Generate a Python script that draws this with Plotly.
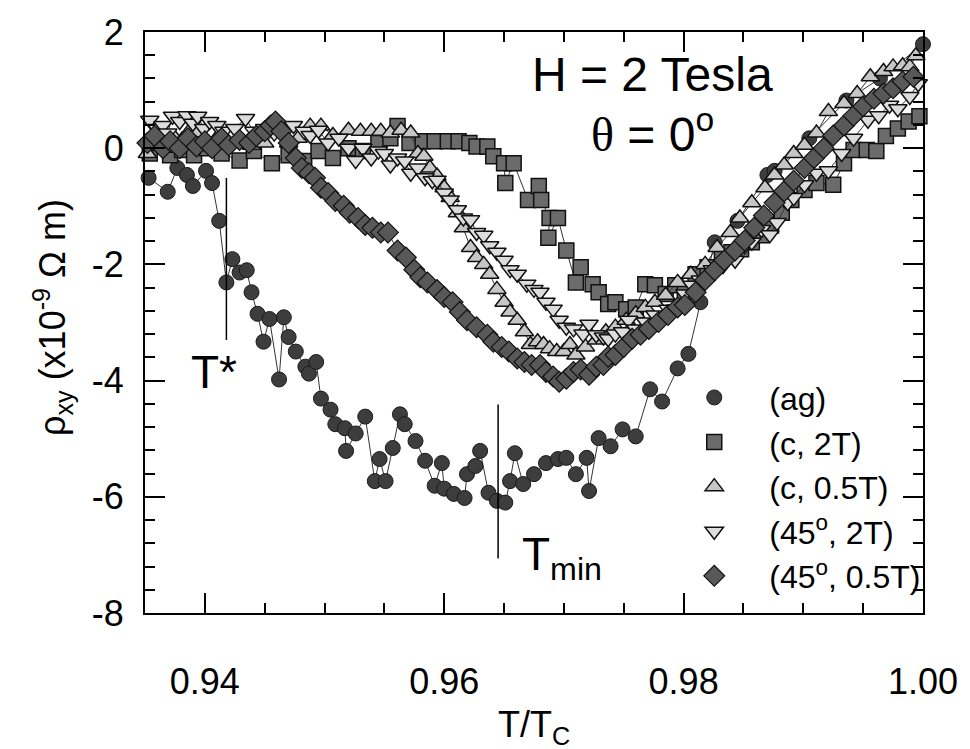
import plotly.graph_objects as go

# ---------------- data ----------------
ag_x = [0.9353, 0.9369, 0.9377, 0.9385, 0.9390, 0.9401, 0.9406, 0.9412, 0.9418, 0.9423,
        0.9429, 0.9435, 0.9439, 0.9444, 0.9449, 0.9454, 0.9462, 0.9466, 0.9470, 0.9476,
        0.9484, 0.9487, 0.9493, 0.9497, 0.9505, 0.9509, 0.9517, 0.9518, 0.9526, 0.9534,
        0.9542, 0.9546, 0.9551, 0.9557, 0.9563, 0.9567, 0.9576, 0.9584, 0.9592, 0.9598,
        0.9600, 0.9608, 0.9617, 0.9619, 0.9626, 0.9630, 0.9637, 0.9644, 0.9651, 0.9655,
        0.9659, 0.9666, 0.9675, 0.9685, 0.9695, 0.9702, 0.9710, 0.9719, 0.9721, 0.9729,
        0.9739, 0.9749, 0.9760, 0.9772, 0.9782, 0.9795, 0.9804, 0.9814, 0.9826, 0.9845,
        0.9870, 0.9876, 0.9905, 0.9936, 0.9964, 1.0000]
ag_y = [-0.51, -0.75, -0.34, -0.46, -0.65, -0.39, -0.60, -1.25, -2.31, -1.91,
        -2.14, -2.10, -2.48, -2.85, -3.33, -2.94, -3.98, -2.91, -3.25, -3.50,
        -3.76, -3.88, -3.68, -4.31, -4.50, -4.75, -4.82, -5.21, -4.91, -4.62,
        -5.73, -5.35, -5.73, -5.16, -4.58, -4.75, -5.04, -5.38, -5.81, -5.42,
        -5.86, -5.95, -6.02, -5.61, -5.47, -5.21, -5.93, -6.07, -6.10, -5.73,
        -5.25, -5.78, -5.61, -5.42, -5.35, -5.33, -5.61, -5.33, -5.90, -4.99,
        -5.13, -4.84, -4.96, -4.15, -4.36, -3.79, -3.54, -2.65, -1.62, -1.25,
        -0.46, -0.39, 0.17, 0.82, 1.20, 1.79]

c2_x = [0.9354, 0.9362, 0.9371, 0.9381, 0.9391, 0.9402, 0.9414, 0.9429, 0.9441, 0.9456,
        0.9470, 0.9483, 0.9495, 0.9507, 0.9520, 0.9532, 0.9545, 0.9555, 0.9561, 0.9571,
        0.9582, 0.9592, 0.9603, 0.9612, 0.9621, 0.9627, 0.9636, 0.9641, 0.9650, 0.9651,
        0.9658, 0.9670, 0.9679, 0.9681, 0.9688, 0.9687, 0.9695, 0.9702, 0.9710, 0.9714,
        0.9724, 0.9729, 0.9737, 0.9743, 0.9752, 0.9760, 0.9768, 0.9776, 0.9785, 0.9793,
        0.9801, 0.9810, 0.9820, 0.9832, 0.9840, 0.9848, 0.9857, 0.9865, 0.9873, 0.9882,
        0.9890, 0.9901, 0.9911, 0.9925, 0.9934, 0.9942, 0.9953, 0.9961, 0.9969, 0.9979,
        0.9988, 0.9997]
c2_y = [-0.09, 0.09, -0.12, -0.03, -0.12, 0.00, -0.09, -0.21, -0.05, -0.26,
        -0.12, -0.22, -0.05, -0.17, 0.00, -0.05, 0.09, 0.17, 0.38, 0.09,
        0.12, 0.12, 0.12, 0.12, 0.09, 0.03, 0.03, -0.14, -0.26, -0.60,
        -0.26, -0.89, -0.65, -0.89, -1.20, -1.54, -1.20, -1.76, -2.31, -2.05,
        -2.34, -2.48, -2.68, -2.65, -2.77, -2.74, -2.34, -2.36, -2.51, -2.36,
        -2.48, -2.17, -2.05, -1.85, -1.79, -1.74, -1.62, -1.50, -1.33, -1.11,
        -0.89, -0.72, -0.60, -0.63, -0.26, -0.03, -0.03, -0.05, 0.21, 0.34,
        0.46, 0.55]

c05_x = [0.9352, 0.9358, 0.9367, 0.9375, 0.9381, 0.9387, 0.9393, 0.9401, 0.9410, 0.9419,
         0.9429, 0.9439, 0.9450, 0.9461, 0.9470, 0.9478, 0.9488, 0.9497, 0.9507, 0.9520,
         0.9530, 0.9539, 0.9547, 0.9555, 0.9564, 0.9572, 0.9578, 0.9583, 0.9588, 0.9594,
         0.9600, 0.9605, 0.9611, 0.9616, 0.9622, 0.9627, 0.9633, 0.9638, 0.9644, 0.9650,
         0.9655, 0.9661, 0.9667, 0.9672, 0.9678, 0.9683, 0.9688, 0.9694, 0.9700, 0.9705,
         0.9710, 0.9718, 0.9727, 0.9735, 0.9743, 0.9752, 0.9760, 0.9768, 0.9776, 0.9785,
         0.9795, 0.9806, 0.9818, 0.9828, 0.9839, 0.9847, 0.9857, 0.9868, 0.9876, 0.9884,
         0.9892, 0.9901, 0.9911, 0.9921, 0.9934, 0.9945, 0.9956, 0.9967, 0.9975, 0.9983,
         0.9989, 0.9994]
c05_y = [-0.09, 0.09, 0.00, 0.17, 0.14, 0.29, 0.26, 0.09, 0.17, 0.09,
         0.14, 0.05, 0.09, 0.29, 0.09, 0.17, 0.38, 0.38, 0.22, 0.31,
         0.29, 0.29, 0.29, 0.26, 0.31, 0.26, -0.09, -0.14, -0.34, -0.48,
         -0.68, -0.85, -1.11, -1.37, -1.71, -1.88, -2.00, -2.17, -2.43, -2.65,
         -2.82, -2.96, -3.16, -3.38, -3.33, -3.38, -3.45, -3.50, -3.50, -3.38,
         -3.56, -3.42, -3.30, -3.16, -3.08, -2.96, -2.85, -2.74, -2.65, -2.53,
         -2.31, -2.17, -2.00, -1.71, -1.45, -1.20, -0.94, -0.68, -0.46, -0.29,
         -0.09, 0.05, 0.26, 0.63, 0.77, 0.94, 1.23, 1.32, 1.40, 1.42,
         1.40, 1.59]

d2_x = [0.9354, 0.9360, 0.9365, 0.9369, 0.9373, 0.9379, 0.9385, 0.9390, 0.9394, 0.9399,
        0.9404, 0.9410, 0.9416, 0.9425, 0.9434, 0.9441, 0.9450, 0.9458, 0.9466, 0.9474,
        0.9483, 0.9488, 0.9495, 0.9503, 0.9512, 0.9520, 0.9526, 0.9532, 0.9539, 0.9545,
        0.9550, 0.9555, 0.9561, 0.9567, 0.9572, 0.9578, 0.9584, 0.9590, 0.9594, 0.9600,
        0.9605, 0.9611, 0.9616, 0.9622, 0.9627, 0.9633, 0.9638, 0.9644, 0.9650, 0.9655,
        0.9661, 0.9669, 0.9675, 0.9680, 0.9685, 0.9691, 0.9696, 0.9702, 0.9708, 0.9716,
        0.9721, 0.9727, 0.9733, 0.9737, 0.9743, 0.9749, 0.9754, 0.9760, 0.9768, 0.9776,
        0.9787, 0.9793, 0.9801, 0.9807, 0.9814, 0.9824, 0.9833, 0.9843, 0.9851, 0.9857,
        0.9865, 0.9872, 0.9878, 0.9887, 0.9892, 0.9901, 0.9911, 0.9921, 0.9932, 0.9942,
        0.9954, 0.9963, 0.9972, 0.9979, 0.9989, 0.9996]
d2_y = [0.48, 0.34, 0.39, 0.26, 0.55, 0.46, 0.56, 0.43, 0.55, 0.34,
        0.46, 0.39, 0.29, 0.34, 0.51, 0.29, 0.34, 0.26, 0.31, 0.39,
        0.29, 0.22, 0.31, 0.09, 0.17, 0.00, -0.21, 0.00, -0.17, -0.05,
        -0.09, -0.29, -0.17, -0.22, -0.43, -0.34, -0.51, -0.56, -0.55, -0.77,
        -0.89, -1.06, -1.20, -1.23, -1.45, -1.50, -1.68, -1.79, -1.93, -2.09,
        -2.17, -2.34, -2.43, -2.48, -2.65, -2.77, -2.96, -3.08, -3.11, -3.20,
        -3.03, -3.21, -3.25, -3.28, -3.20, -3.16, -2.96, -3.11, -2.99, -2.87,
        -2.77, -2.77, -2.51, -2.36, -2.27, -2.09, -2.02, -1.93, -1.68, -1.62,
        -1.40, -1.49, -1.28, -0.94, -0.85, -0.63, -0.43, -0.39, -0.09, 0.17,
        0.48, 0.56, 0.74, 0.68, 0.89, 1.11]

d05_x = [0.9352, 0.9358, 0.9365, 0.9371, 0.9379, 0.9386, 0.9393, 0.9400, 0.9406, 0.9414,
         0.9420, 0.9429, 0.9437, 0.9443, 0.9450, 0.9455, 0.9459, 0.9464, 0.9470, 0.9476,
         0.9481, 0.9487, 0.9492, 0.9497, 0.9503, 0.9509, 0.9516, 0.9521, 0.9528, 0.9534,
         0.9540, 0.9547, 0.9553, 0.9561, 0.9568, 0.9575, 0.9580, 0.9586, 0.9594, 0.9600,
         0.9607, 0.9613, 0.9619, 0.9627, 0.9636, 0.9641, 0.9648, 0.9654, 0.9661, 0.9667,
         0.9673, 0.9680, 0.9685, 0.9691, 0.9696, 0.9702, 0.9708, 0.9714, 0.9721, 0.9727,
         0.9733, 0.9737, 0.9743, 0.9750, 0.9757, 0.9764, 0.9771, 0.9779, 0.9787, 0.9795,
         0.9801, 0.9810, 0.9818, 0.9826, 0.9834, 0.9843, 0.9851, 0.9859, 0.9867, 0.9876,
         0.9884, 0.9892, 0.9901, 0.9909, 0.9917, 0.9925, 0.9934, 0.9942, 0.9950, 0.9959,
         0.9967, 0.9975, 0.9983, 0.9992]
d05_y = [0.09, 0.21, 0.00, 0.12, 0.00, 0.17, 0.03, 0.12, 0.00, 0.17,
         0.05, 0.14, 0.09, 0.21, 0.29, 0.39, 0.46, 0.29, 0.09, -0.17,
         -0.34, -0.43, -0.51, -0.68, -0.77, -0.91, -0.99, -1.11, -1.20, -1.32,
         -1.37, -1.45, -1.45, -1.76, -1.88, -2.09, -2.22, -2.31, -2.44, -2.56,
         -2.65, -2.82, -2.96, -3.08, -3.21, -3.33, -3.42, -3.50, -3.62, -3.68,
         -3.73, -3.73, -3.85, -3.93, -4.02, -3.97, -3.85, -3.81, -3.90, -3.76,
         -3.73, -3.59, -3.56, -3.42, -3.28, -3.21, -3.11, -2.99, -2.87, -2.74,
         -2.70, -2.48, -2.27, -2.10, -1.93, -1.76, -1.59, -1.37, -1.16, -0.94,
         -0.74, -0.56, -0.34, -0.17, 0.00, 0.22, 0.39, 0.56, 0.72, 0.85,
         0.94, 1.03, 1.15, 1.23]

series_names = ["(ag)", "(c, 2T)", "(c, 0.5T)",
                "(45<sup>o</sup>, 2T)", "(45<sup>o</sup>, 0.5T)"]

x_range = [0.935, 1.0]
y_range = [-8, 2]
x_ticks = [0.94, 0.96, 0.98, 1.00]
x_ticktext = ["0.94", "0.96", "0.98", "1.00"]
y_ticks = [-8, -6, -4, -2, 0, 2]
y_ticktext = ["-8", "-6", "-4", "-2", "0", "2"]

# annotation markers
tstar_x = 0.9418
tstar_line = [-0.51, -3.30]
tmin_x = 0.9645
tmin_line = [-4.41, -7.06]

FONT = "Liberation Sans, Arial, Helvetica, sans-serif"

fig = go.Figure()

styles = [
    (ag_x, ag_y, dict(symbol="circle", size=15, color="#3d3d3d",
                      line=dict(color="#1a1a1a", width=1))),
    (c2_x, c2_y, dict(symbol="square", size=15, color="#6b6b6b",
                      line=dict(color="#111111", width=1.5))),
    (c05_x, c05_y, dict(symbol="triangle-up", size=16, color="#c6c6c6",
                        line=dict(color="#111111", width=1.5))),
    (d2_x, d2_y, dict(symbol="triangle-down", size=16, color="#dcdcdc",
                      line=dict(color="#111111", width=1.5))),
    (d05_x, d05_y, dict(symbol="diamond", size=16, color="#585858",
                        line=dict(color="#111111", width=1.2))),
]

for (xs, ys, mk), name in zip(styles, series_names):
    # connecting line (not in legend)
    fig.add_trace(go.Scatter(
        x=xs, y=ys, mode="lines", showlegend=False, hoverinfo="skip",
        line=dict(color="#333333", width=1), cliponaxis=False))
    # symbols (legend shows symbol only)
    fig.add_trace(go.Scatter(
        x=xs, y=ys, name=name, mode="markers",
        marker=mk, cliponaxis=False))

axis_common = dict(
    showline=True, linewidth=2, linecolor="black", mirror="allticks",
    ticks="inside", ticklen=20, tickwidth=1.5, tickcolor="black",
    showgrid=False, zeroline=False,
    tickfont=dict(size=36, family=FONT, color="black"),
)

fig.update_xaxes(range=x_range, tickvals=x_ticks, ticktext=x_ticktext,
                 minor=dict(dtick=0.005, tick0=0.935, ticks="inside", ticklen=10,
                            tickwidth=1.5, tickcolor="black", showgrid=False),
                 ticklabelstandoff=36, **axis_common)
fig.update_yaxes(range=y_range, tickvals=y_ticks, ticktext=y_ticktext,
                 minor=dict(dtick=0.4, tick0=-8, ticks="inside", ticklen=10,
                            tickwidth=1.5, tickcolor="black", showgrid=False),
                 ticklabelstandoff=12, **axis_common)

fig.add_shape(type="line", xref="x", yref="y", x0=tstar_x, x1=tstar_x,
              y0=tstar_line[0], y1=tstar_line[1], line=dict(color="black", width=1.5))
fig.add_shape(type="line", xref="x", yref="y", x0=tmin_x, x1=tmin_x,
              y0=tmin_line[0], y1=tmin_line[1], line=dict(color="black", width=1.5))

ann = [
    dict(text="H = 2 Tesla", x=0.9774, y=1.27, xref="x", yref="y",
         font=dict(size=48)),
    dict(text="<span style='font-family:Liberation Serif'>θ</span> = 0<sup>o</sup>",
         x=0.9774, y=0.30, xref="x", yref="y", font=dict(size=48)),
    dict(text="T*", x=0.9408, y=-3.85, xref="x", yref="y", font=dict(size=46)),
    dict(text="T<sub>min</sub>", x=0.9698, y=-7.05, xref="x", yref="y",
         font=dict(size=46)),
    dict(text="ρ<sub>xy</sub> (x10<sup>-9</sup> Ω m)", x=-0.118, y=0.508,
         xref="paper", yref="paper", textangle=-90, font=dict(size=36)),
    dict(text="T/T<sub>C</sub>", x=0.5, y=-0.196, xref="paper", yref="paper",
         font=dict(size=36)),
]
for a in ann:
    a.setdefault("showarrow", False)
    a["font"].update(family=FONT, color="black")
    a["xanchor"] = "center"
    a["yanchor"] = "middle"
    fig.add_annotation(**a)

fig.update_layout(
    width=970, height=749,
    margin=dict(l=145, r=40, t=28, b=136),
    plot_bgcolor="white", paper_bgcolor="white",
    font=dict(family=FONT, color="black"),
    showlegend=True,
    legend=dict(x=0.661, y=0.418, xanchor="left", yanchor="top",
                bgcolor="rgba(0,0,0,0)", borderwidth=0,
                font=dict(size=32, family=FONT, color="black"),
                itemwidth=100, tracegroupgap=0),
)

fig.write_html("out.html")
